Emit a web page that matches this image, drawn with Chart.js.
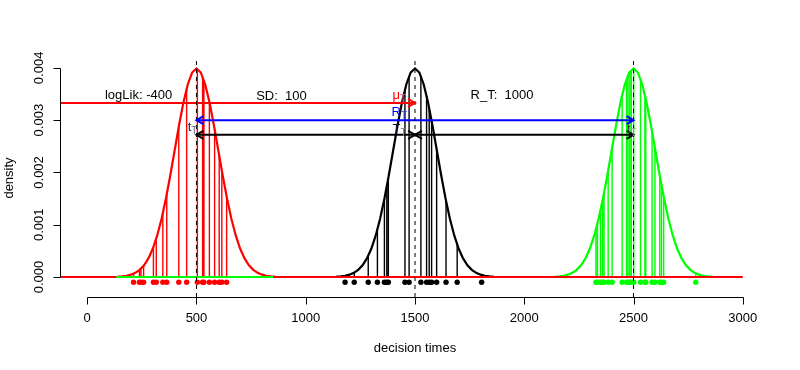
<!DOCTYPE html>
<html>
<head>
<meta charset="utf-8">
<script src="https://cdn.jsdelivr.net/npm/chart.js@4.4.1/dist/chart.umd.min.js"></script>
<style>
  html, body { margin: 0; padding: 0; background: #fff; }
  canvas { display: block; }
</style>
</head>
<body>
<canvas id="c" width="800" height="370"></canvas>
<script>
// Three component densities, SD 100, same bell shape around each mean
const means       = [500, 1500, 2500];
const curveColors = ['#ff0000', '#000000', '#00ff00'];
const bellOffset  = [-360,-340,-320,-300,-280,-260,-240,-220,-200,-180,-160,-140,-120,-100,-80,-60,-40,-20,
                     0,20,40,60,80,100,120,140,160,180,200,220,240,260,280,300,320,340,360];
const bellDensity = [0.0000061,0.0000123,0.0000238,0.0000443,0.0000792,0.0001358,0.0002239,0.0003547,
                     0.0005399,0.0007895,0.0011092,0.0014973,0.0019419,0.0024197,0.0028969,0.0033322,
                     0.0036827,0.0039104,0.0039894,0.0039104,0.0036827,0.0033322,0.0028969,0.0024197,
                     0.0019419,0.0014973,0.0011092,0.0007895,0.0005399,0.0003547,0.0002239,0.0001358,
                     0.0000792,0.0000443,0.0000238,0.0000123,0.0000061];

// observed decision times and their density sticks
const redTimes     = [212,239,246,258,303,316,346,364,419,455,504,528,534,559,583,604,616,638];
const redHeights   = [0.0000631,0.000132,0.000158,0.000213,0.000573,0.000734,0.001219,0.001582,0.002874,
                      0.003605,0.003986,0.003836,0.003765,0.003352,0.002827,0.002323,0.002036,0.001540];
const blackTimes   = [1180,1222,1286,1328,1360,1371,1378,1454,1473,1527,1553,1565,1576,1599,1642,1693,1805];
const blackHeights = [0.0000238,0.0000837,0.000404,0.000909,0.001497,0.001736,0.001895,0.003589,0.003847,
                      0.003847,0.003467,0.003230,0.002989,0.002444,0.001456,0.000620,0.0000381];
const greenTimes   = [2328,2335,2349,2358,2365,2384,2402,2448,2468,2475,2483,2490,2501,2532,2552,2556,
                      2585,2598,2620,2628,2638,2785];
const greenHeights = [0.000909,0.001023,0.001276,0.001456,0.001604,0.002036,0.002468,0.003485,0.003790,
                      0.003867,0.003932,0.003970,0.003989,0.003790,0.003485,0.003411,0.002780,0.002468,
                      0.001942,0.001759,0.001540,0.0000687];
const dotLevel = -0.0001;

// baselines at density 0
const redBaseX   = [-120, 3000];
const greenBaseX = [133, 851];

// arrows: code 2 = head at end, 3 = both ends
const arrowSpecs = [
  { x0: -120, x1: 1500, y: 0.00333, color: '#ff0000', code: 2 },
  { x0: 500,  x1: 2500, y: 0.003,   color: '#0000ff', code: 3 },
  { x0: 500,  x1: 1500, y: 0.00272, color: '#000000', code: 3 },
  { x0: 1500, x1: 2500, y: 0.00272, color: '#000000', code: 3 }
];

const xTicks = [0, 500, 1000, 1500, 2000, 2500, 3000];
const yTicks = [0, 0.001, 0.002, 0.003, 0.004];
const yTickLabels = ['0.000', '0.001', '0.002', '0.003', '0.004'];

const X_MIN = -120, X_MAX = 3120, Y_MIN = -0.000383, Y_MAX = 0.00417;
const FONT = '"Liberation Sans", Arial, Helvetica, sans-serif';

function stickData(times, heights) {
  const out = [];
  times.forEach((t, i) => {
    out.push({ x: t, y: 0 }, { x: t, y: heights[i] }, { x: t, y: null });
  });
  return out;
}

function lineSet(data, color, width, order, extra) {
  return Object.assign({
    data, borderColor: color, backgroundColor: color, borderWidth: width,
    pointRadius: 0, tension: 0, fill: false, spanGaps: false, order
  }, extra || {});
}

const datasets = [];
[[redTimes, redHeights], [blackTimes, blackHeights], [greenTimes, greenHeights]].forEach((s, i) => {
  datasets.push(lineSet(stickData(s[0], s[1]), curveColors[i], 1.4, 90));
});
means.forEach((m, i) => {
  datasets.push(lineSet(bellOffset.map((o, j) => ({ x: m + o, y: bellDensity[j] })), curveColors[i], 2.2, 80));
});
datasets.push(lineSet(redBaseX.map(v => ({ x: v, y: 0 })), '#ff0000', 2, 70));
datasets.push(lineSet(greenBaseX.map(v => ({ x: v, y: 0 })), '#00ff00', 2, 60));
[redTimes, blackTimes, greenTimes].forEach((times, i) => {
  datasets.push(lineSet(times.map(t => ({ x: t, y: dotLevel })), curveColors[i], 0, 50,
    { showLine: false, pointRadius: 2.7, pointBorderWidth: 0, pointBackgroundColor: curveColors[i] }));
});
arrowSpecs.forEach(a => {
  datasets.push(lineSet([{ x: a.x0, y: a.y }, { x: a.x1, y: a.y }], a.color, 2, 40));
});
const dashData = [];
means.forEach(m => dashData.push({ x: m, y: Y_MIN }, { x: m, y: Y_MAX }, { x: m, y: null }));
datasets.push(lineSet(dashData, '#000000', 1, 30, { borderDash: [4, 4] }));

// text in data coordinates
const notes = [
  { text: 'logLik: -400', x: 235,  y: 0.003407 },
  { text: 'SD:  100',     x: 889,  y: 0.003390 },
  { text: 'R_T:  1000',   x: 1898, y: 0.003407 }
];
const subLabels = [
  { main: '\u03bc', sub: 'T', x: 1397, y: 0.003407, color: '#ff0000', subColor: '#ff4d88' },
  { main: 'R',      sub: 'T', x: 1393, y: 0.003080, color: '#0000ff', subColor: '#3333ff' },
  { main: 'T',      sub: 'T', x: 1397, y: 0.002756, color: '#111133', subColor: '#8080a8' },
  { main: 't',      sub: 'T', x: 460,  y: 0.002794, color: '#222244', subColor: '#606088' },
  { main: 't',      sub: 'T', x: 2469, y: 0.002756, color: '#333344', subColor: '#9999aa' }
];

function head(ctx, x, y, dir, color) {
  const len = 8, ang = Math.PI / 6;
  ctx.strokeStyle = color;
  ctx.lineWidth = 2;
  ctx.beginPath();
  ctx.moveTo(x - dir * len * Math.cos(ang), y - len * Math.sin(ang));
  ctx.lineTo(x, y);
  ctx.lineTo(x - dir * len * Math.cos(ang), y + len * Math.sin(ang));
  ctx.stroke();
}

const rDecor = {
  id: 'rDecor',
  afterDatasetsDraw(chart) {
    const { ctx } = chart;
    const sx = chart.scales.x, sy = chart.scales.y;
    ctx.save();
    arrowSpecs.forEach(a => {
      const yy = sy.getPixelForValue(a.y);
      if (a.code === 2 || a.code === 3) head(ctx, sx.getPixelForValue(a.x1), yy, 1, a.color);
      if (a.code === 3) head(ctx, sx.getPixelForValue(a.x0), yy, -1, a.color);
    });

    ctx.fillStyle = '#000';
    ctx.font = '13px ' + FONT;
    ctx.textAlign = 'center';
    ctx.textBaseline = 'alphabetic';
    notes.forEach(n => ctx.fillText(n.text, sx.getPixelForValue(n.x), sy.getPixelForValue(n.y)));

    ctx.textAlign = 'left';
    subLabels.forEach(l => {
      const x0 = sx.getPixelForValue(l.x), y0 = sy.getPixelForValue(l.y);
      ctx.font = '13px ' + FONT;
      ctx.fillStyle = l.color;
      ctx.fillText(l.main, x0, y0);
      const w = ctx.measureText(l.main).width;
      ctx.font = '10px ' + FONT;
      ctx.fillStyle = l.subColor;
      ctx.fillText(l.sub, x0 + w, y0 + 3);
    });
    ctx.restore();
  },
  afterDraw(chart) {
    const { ctx, chartArea } = chart;
    const sx = chart.scales.x, sy = chart.scales.y;
    ctx.save();
    ctx.strokeStyle = '#000';
    ctx.fillStyle = '#000';
    ctx.lineWidth = 1;

    // x axis
    const ax = Math.round(chartArea.bottom) + 0.5;
    ctx.beginPath();
    ctx.moveTo(Math.round(sx.getPixelForValue(xTicks[0])) + 0.5, ax);
    ctx.lineTo(Math.round(sx.getPixelForValue(xTicks[xTicks.length - 1])) + 0.5, ax);
    xTicks.forEach(t => {
      const p = Math.round(sx.getPixelForValue(t)) + 0.5;
      ctx.moveTo(p, ax);
      ctx.lineTo(p, ax + 7);
    });
    ctx.stroke();
    ctx.font = '13px ' + FONT;
    ctx.textAlign = 'center';
    ctx.textBaseline = 'middle';
    xTicks.forEach(t => ctx.fillText(String(t), sx.getPixelForValue(t), ax + 21));
    ctx.fillText('decision times', (chartArea.left + chartArea.right) / 2, ax + 51);

    // y axis
    const ay = Math.round(chartArea.left) - 0.5;
    ctx.beginPath();
    ctx.moveTo(ay, Math.round(sy.getPixelForValue(yTicks[0])) + 0.5);
    ctx.lineTo(ay, Math.round(sy.getPixelForValue(yTicks[yTicks.length - 1])) + 0.5);
    yTicks.forEach(t => {
      const p = Math.round(sy.getPixelForValue(t)) + 0.5;
      ctx.moveTo(ay, p);
      ctx.lineTo(ay - 7, p);
    });
    ctx.stroke();
    yTicks.forEach((t, i) => {
      ctx.save();
      ctx.translate(ay - 21, sy.getPixelForValue(t));
      ctx.rotate(-Math.PI / 2);
      ctx.fillText(yTickLabels[i], 0, 0);
      ctx.restore();
    });
    ctx.save();
    ctx.translate(9, (chartArea.top + chartArea.bottom) / 2);
    ctx.rotate(-Math.PI / 2);
    ctx.fillText('density', 0, 0);
    ctx.restore();
    ctx.restore();
  }
};

const chart = new Chart(document.getElementById('c'), {
  type: 'line',
  data: { datasets },
  options: {
    responsive: false,
    animation: false,
    parsing: true,
    layout: { padding: { left: 61, right: 31, top: 59, bottom: 73 } },
    plugins: { legend: { display: false }, tooltip: { enabled: false } },
    scales: {
      x: { type: 'linear', min: X_MIN, max: X_MAX, display: false },
      y: { type: 'linear', min: Y_MIN, max: Y_MAX, display: false }
    }
  },
  plugins: [rDecor]
});
</script>
</body>
</html>
